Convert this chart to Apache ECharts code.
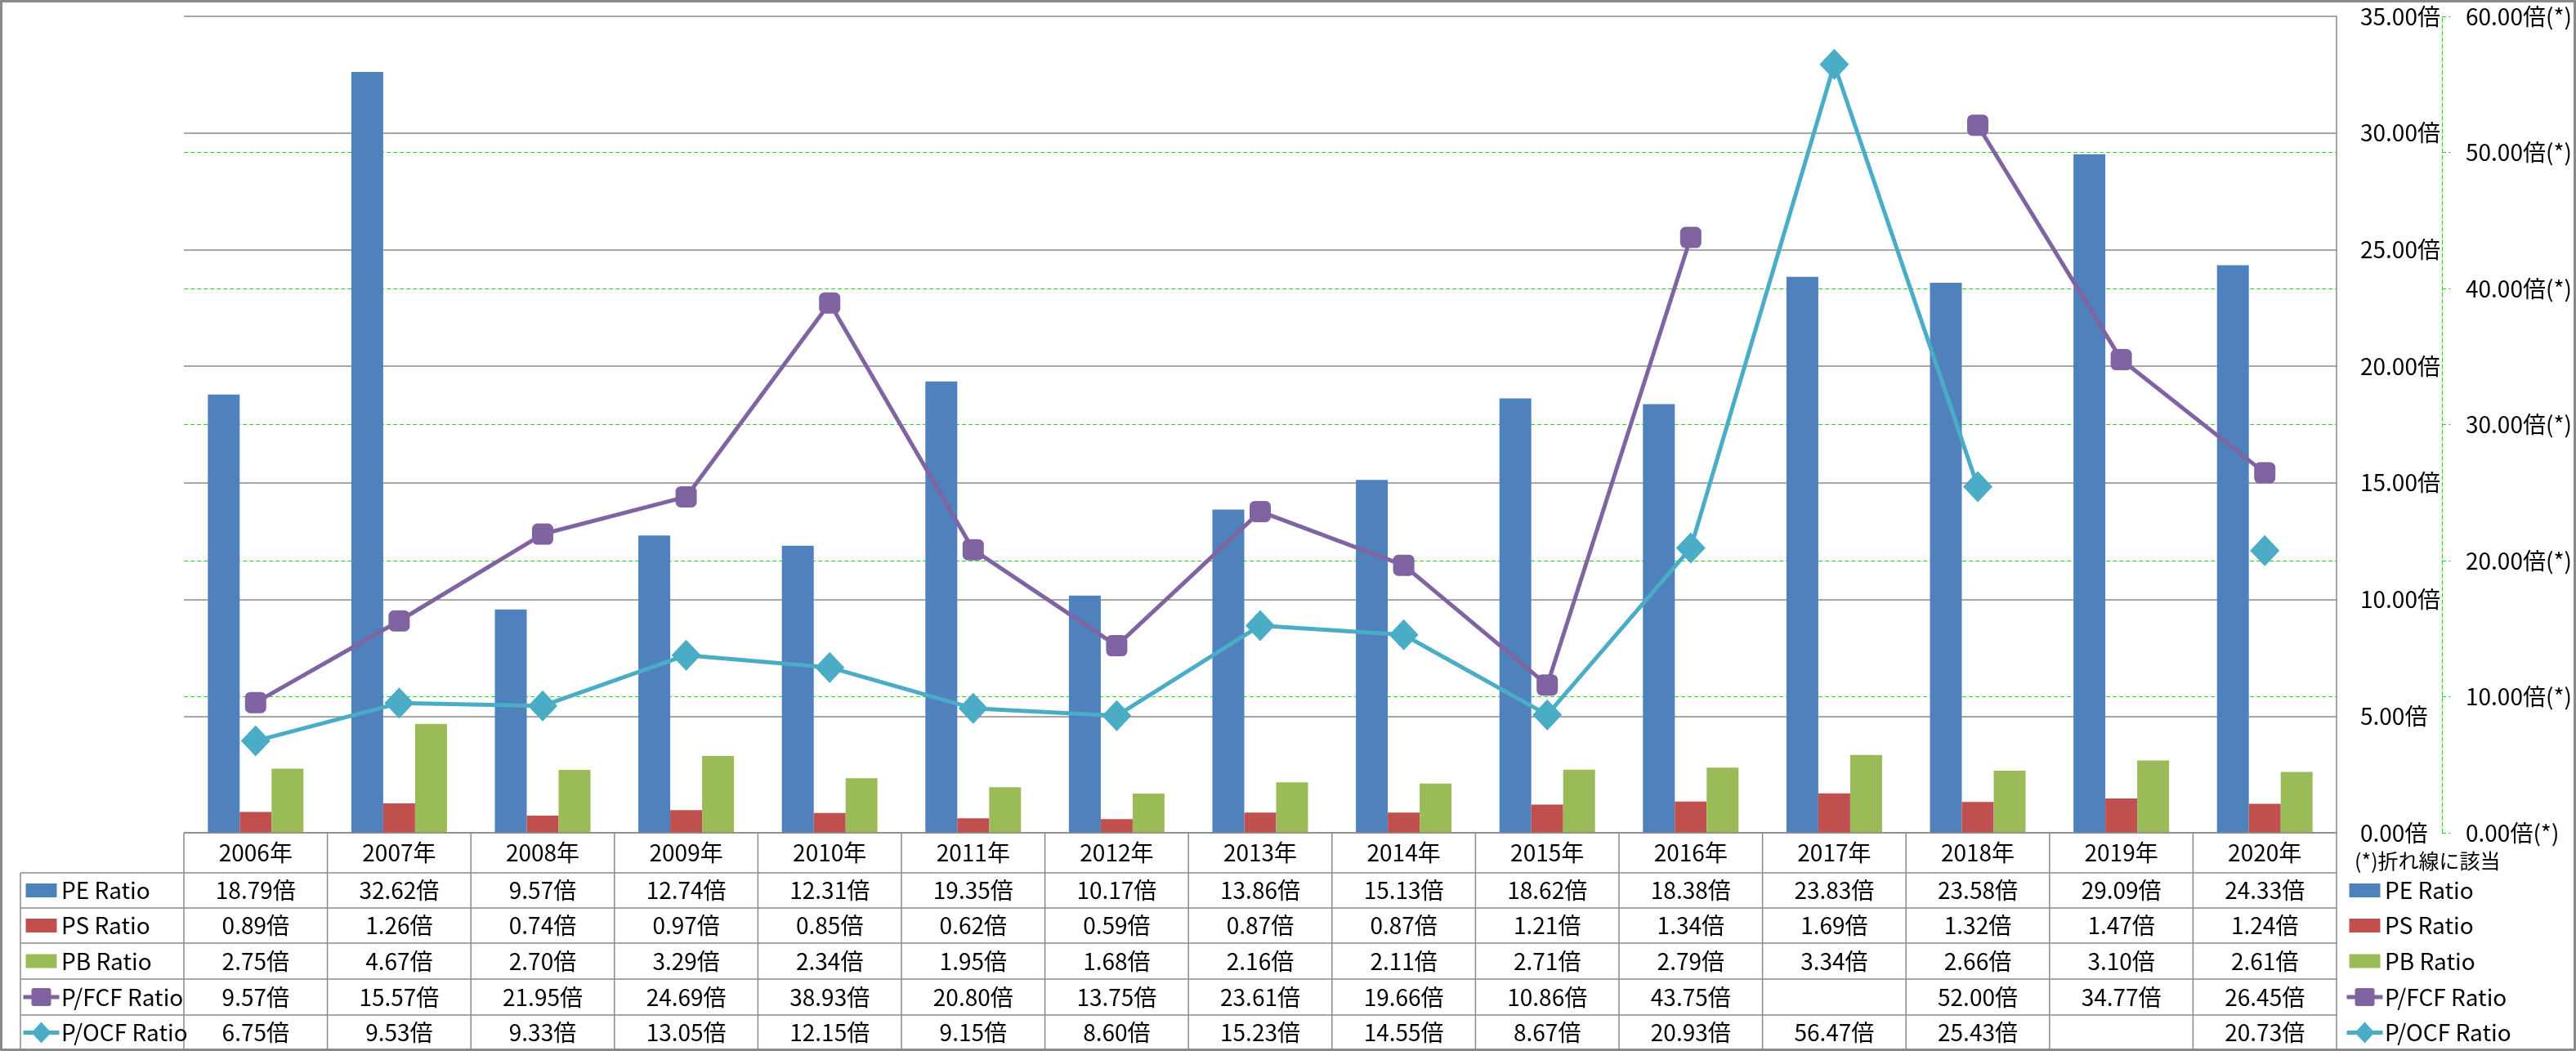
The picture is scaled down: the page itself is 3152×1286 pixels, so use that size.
<!DOCTYPE html>
<html>
<head>
<meta charset="utf-8">
<script src="https://cdn.jsdelivr.net/npm/echarts@6/dist/echarts.min.js"></script>
<style>
html,body{margin:0;padding:0;background:#fff;}
#c{width:3152px;height:1286px;}
</style>
</head>
<body>
<div id="c"></div>
<script>
// ---- data ----
const years = ['2006年','2007年','2008年','2009年','2010年','2011年','2012年','2013年','2014年','2015年','2016年','2017年','2018年','2019年','2020年'];
const peRatio   = [18.79, 32.62, 9.57, 12.74, 12.31, 19.35, 10.17, 13.86, 15.13, 18.62, 18.38, 23.83, 23.58, 29.09, 24.33];
const psRatio   = [0.89, 1.26, 0.74, 0.97, 0.85, 0.62, 0.59, 0.87, 0.87, 1.21, 1.34, 1.69, 1.32, 1.47, 1.24];
const pbRatio   = [2.75, 4.67, 2.70, 3.29, 2.34, 1.95, 1.68, 2.16, 2.11, 2.71, 2.79, 3.34, 2.66, 3.10, 2.61];
const pfcfRatio = [9.57, 15.57, 21.95, 24.69, 38.93, 20.80, 13.75, 23.61, 19.66, 10.86, 43.75, null, 52.00, 34.77, 26.45];
const pocfRatio = [6.75, 9.53, 9.33, 13.05, 12.15, 9.15, 8.60, 15.23, 14.55, 8.67, 20.93, 56.47, 25.43, null, 20.73];
const seriesNames = ['PE Ratio','PS Ratio','PB Ratio','P/FCF Ratio','P/OCF Ratio'];
const primaryAxis = {min: 0, max: 35, interval: 5, suffix: '倍'};
const secondaryAxis = {min: 0, max: 60, interval: 10, suffix: '倍(*)'};
const unitSuffix = '倍';
const noteText = '(*)折れ線に該当';

// ---- style ----
const colors = ['#4F81BD','#C0504D','#9BBB59','#8064A2','#4BACC6'];
const FONT = '"Noto Sans CJK JP","Noto Sans",sans-serif';
const FS = 28;
const GRID_GRAY = '#8a8a8a';
const GREEN = '#1fdc1f';
const W = 3152, H = 1286;
const G = {left: 225, right: 293, top: 20, bottom: 267};
const rowY = [1019, 1068, 1111, 1154, 1198, 1242, 1285];

const chart = echarts.init(document.getElementById('c'), null, {renderer: 'canvas'});

const rowsData = [peRatio, psRatio, pbRatio, pfcfRatio, pocfRatio];

const option = {
  animation: false,
  backgroundColor: '#fff',
  textStyle: {fontFamily: FONT},
  grid: {left: G.left, right: G.right, top: G.top, bottom: G.bottom, containLabel: false},
  xAxis: {
    type: 'category', data: years, boundaryGap: true,
    axisLine: {show: false}, axisTick: {show: false}, axisLabel: {show: false}, splitLine: {show: false}
  },
  yAxis: [
    {
      type: 'value', position: 'right', min: primaryAxis.min, max: primaryAxis.max, interval: primaryAxis.interval,
      axisLine: {show: true, lineStyle: {color: GRID_GRAY, width: 1.5}},
      axisTick: {show: false},
      axisLabel: {
        show: true, margin: 29, align: 'left', color: '#000', fontSize: FS, fontFamily: FONT,
        formatter: v => v.toFixed(2) + primaryAxis.suffix
      },
      splitLine: {show: true, lineStyle: {color: GRID_GRAY, width: 1.5}},
      z: 3
    },
    {
      type: 'value', position: 'right', offset: 129, min: secondaryAxis.min, max: secondaryAxis.max, interval: secondaryAxis.interval,
      axisLine: {show: true, lineStyle: {color: GREEN, width: 1.2, type: [5, 3]}},
      axisTick: {show: true, inside: false, length: 10, lineStyle: {color: GREEN, width: 1.2, type: [5, 3]}},
      axisLabel: {
        show: true, margin: 29, align: 'left', color: '#000', fontSize: FS, fontFamily: FONT,
        formatter: v => v.toFixed(2) + secondaryAxis.suffix
      },
      splitLine: {show: true, showMaxLine: false, showMinLine: false, lineStyle: {color: GREEN, width: 1.2, type: [5, 3]}},
      z: 1
    }
  ],
  series: [
    {name: seriesNames[0], type: 'bar', data: peRatio, yAxisIndex: 0, barWidth: 39, barGap: '0%', itemStyle: {color: colors[0]}, z: 4},
    {name: seriesNames[1], type: 'bar', data: psRatio, yAxisIndex: 0, barWidth: 39, barGap: '0%', itemStyle: {color: colors[1]}, z: 4},
    {name: seriesNames[2], type: 'bar', data: pbRatio, yAxisIndex: 0, barWidth: 39, barGap: '0%', itemStyle: {color: colors[2]}, z: 4},
    {name: seriesNames[3], type: 'line', data: pfcfRatio, yAxisIndex: 1, connectNulls: false,
      symbol: 'roundRect', symbolSize: 26, showAllSymbol: true,
      lineStyle: {color: colors[3], width: 5}, itemStyle: {color: colors[3]}, z: 5},
    {name: seriesNames[4], type: 'line', data: pocfRatio, yAxisIndex: 1, connectNulls: false,
      symbol: 'diamond', symbolSize: [36, 38], showAllSymbol: true,
      lineStyle: {color: colors[4], width: 5}, itemStyle: {color: colors[4]}, z: 6}
  ]
};
chart.setOption(option);

// ---- data table drawn with graphic elements aligned to the category axis ----
function buildTable() {
  const centers = years.map((_, i) => chart.convertToPixel({xAxisIndex: 0}, i));
  const band = centers.length > 1 ? centers[1] - centers[0] : 100;
  const bounds = [centers[0] - band / 2].concat(centers.map(c => c + band / 2));
  const xL = bounds[0], xR = bounds[bounds.length - 1];
  const tableLeft = 25;
  const els = [];
  const lineStyle = {stroke: GRID_GRAY, lineWidth: 1.5};
  const hline = (x1, x2, y) => els.push({type: 'line', silent: true, shape: {x1, y1: y, x2, y2: y}, style: lineStyle, z: 10});
  const vline = (x, y1, y2) => els.push({type: 'line', silent: true, shape: {x1: x, y1, x2: x, y2}, style: lineStyle, z: 10});
  const text = (t, x, y, align, fs) => els.push({type: 'text', silent: true, z: 11,
    style: {text: t, x, y, textAlign: align, textVerticalAlign: 'middle', fill: '#000', font: (fs || FS) + 'px ' + FONT}});

  hline(xL, xR, rowY[0]);
  for (let r = 1; r < rowY.length; r++) hline(tableLeft, xR, rowY[r]);
  vline(tableLeft, rowY[1], rowY[rowY.length - 1]);
  bounds.forEach(b => vline(b, rowY[0], rowY[rowY.length - 1]));

  const hy = (rowY[0] + rowY[1]) / 2;
  years.forEach((y, i) => text(y, centers[i], hy, 'center'));

  function key(k, cx, cy) {
    if (k < 3) {
      els.push({type: 'rect', silent: true, z: 11, shape: {x: cx - 19, y: cy - 8.5, width: 38, height: 17}, style: {fill: colors[k]}});
    } else {
      els.push({type: 'line', silent: true, z: 11, shape: {x1: cx - 22, y1: cy, x2: cx + 22, y2: cy}, style: {stroke: colors[k], lineWidth: 5}});
      if (k === 3) {
        els.push({type: 'rect', silent: true, z: 12, shape: {x: cx - 12, y: cy - 11, width: 24, height: 22, r: 3}, style: {fill: colors[k]}});
      } else {
        els.push({type: 'polygon', silent: true, z: 12, shape: {points: [[cx, cy - 13], [cx + 12, cy], [cx, cy + 13], [cx - 12, cy]]}, style: {fill: colors[k]}});
      }
    }
  }

  rowsData.forEach((arr, k) => {
    const cy = (rowY[k + 1] + rowY[k + 2]) / 2;
    key(k, 50.5, cy);
    text(seriesNames[k], 75, cy, 'left');
    arr.forEach((v, i) => {
      if (v !== null && v !== undefined) text(v.toFixed(2) + unitSuffix, centers[i], cy, 'center');
    });
    key(k, 2893.5, cy);
    text(seriesNames[k], 2918, cy, 'left');
  });

  text(noteText, 2881, 1053, 'left', 25);

  els.push({type: 'rect', silent: true, z: 20, shape: {x: 1.5, y: 1.5, width: W - 3, height: H - 3}, style: {fill: 'none', stroke: GRID_GRAY, lineWidth: 3}});

  chart.setOption({graphic: {elements: els}});
}
buildTable();
</script>
</body>
</html>
